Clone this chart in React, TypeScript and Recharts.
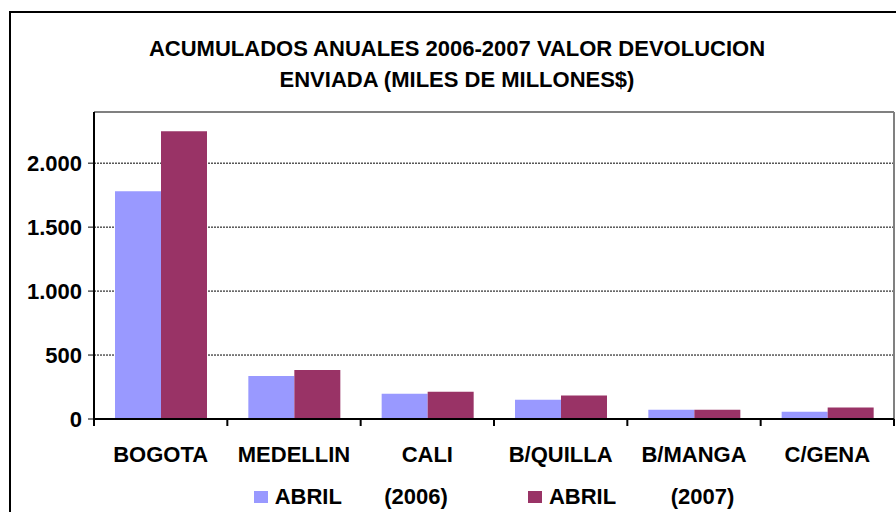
import { BarChart, Bar, XAxis, YAxis, CartesianGrid, Legend } from "recharts"

const cities = ["BOGOTA", "MEDELLIN", "CALI", "B/QUILLA", "B/MANGA", "C/GENA"]
const abril2006 = [1780, 337, 198, 151, 73, 57]
const abril2007 = [2250, 384, 214, 183, 73, 89]
const yTicks = [0, 500, 1000, 1500, 2000]
const seriesNames = ["ABRIL       (2006)", "ABRIL         (2007)"]

const data = cities.map((city, i) => ({
  city,
  v2006: abril2006[i],
  v2007: abril2007[i],
}))

const FONT = "'Liberation Sans', Arial, sans-serif"
const W = 896
const H = 512
const PLOT_W = 800

const fmt = (v: number) => String(v).replace(/\B(?=(\d{3})+(?!\d))/g, ".")

function CityTick(props: any) {
  const { x, y, payload, index } = props
  const band = PLOT_W / cities.length
  return (
    <g>
      <line x1={x - band / 2} x2={x - band / 2} y1={y} y2={y + 7} stroke="#000" strokeWidth={2} />
      {index === cities.length - 1 && (
        <line x1={x + band / 2} x2={x + band / 2} y1={y} y2={y + 7} stroke="#000" strokeWidth={2} />
      )}
      <text x={x} y={y + 43} textAnchor="middle" fill="#000" fontSize={22} fontWeight="bold" fontFamily={FONT}>
        {payload.value}
      </text>
    </g>
  )
}

function renderLegend(props: any) {
  const items = [...(props.payload || [])].sort(
    (a: any, b: any) => seriesNames.indexOf(a.value) - seriesNames.indexOf(b.value)
  )
  return (
    <div style={{ display: "flex", justifyContent: "center", gap: 80, height: 30, alignItems: "center" }}>
      {items.map((p: any) => (
        <div key={p.value} style={{ display: "flex", alignItems: "center" }}>
          <span style={{ width: 14, height: 12, background: p.color, marginRight: 7, display: "inline-block" }} />
          <span style={{ fontFamily: FONT, fontWeight: "bold", fontSize: 22, whiteSpace: "pre", color: "#000" }}>{p.value}</span>
        </div>
      ))}
    </div>
  )
}

export default function App() {
  return (
    <div style={{ position: "absolute", left: 0, top: 0, width: W, height: H, overflow: "hidden", background: "#fff" }}>
      <div style={{ position: "absolute", left: 9, top: 11, width: 920, height: 530, border: "2px solid #000" }} />
      <div
        style={{
          position: "absolute", left: 10, top: 33, width: 894, textAlign: "center",
          fontFamily: FONT, fontWeight: "bold", fontSize: 22, lineHeight: "31px", color: "#000",
        }}
      >
        <div>ACUMULADOS ANUALES 2006-2007 VALOR DEVOLUCION</div>
        <div>ENVIADA (MILES DE MILLONES$)</div>
      </div>
      <div style={{ position: "absolute", left: 0, top: 0 }}>
        <BarChart width={W} height={H} data={data} margin={{ top: 112, right: 2, left: 0, bottom: 0 }} barGap={0}>
          <CartesianGrid vertical={false} stroke="#000" strokeDasharray="2 1" />
          <CartesianGrid
            stroke="#808080"
            strokeWidth={2}
            horizontalCoordinatesGenerator={({ offset }: any) => [offset.top]}
            verticalCoordinatesGenerator={({ offset }: any) => [offset.left + offset.width]}
          />
          <XAxis
            dataKey="city"
            height={63}
            interval={0}
            tickSize={0}
            tickMargin={0}
            tickLine={false}
            axisLine={{ stroke: "#000", strokeWidth: 2 }}
            tick={<CityTick />}
          />
          <YAxis
            width={94}
            domain={[0, 2400]}
            ticks={yTicks}
            tickFormatter={fmt}
            tickSize={6}
            tickMargin={6}
            tickLine={{ stroke: "#000", strokeWidth: 1 }}
            axisLine={{ stroke: "#000", strokeWidth: 2 }}
            tick={{ fill: "#000", fontSize: 22, fontWeight: "bold", fontFamily: FONT }}
          />
          <Legend verticalAlign="bottom" height={30} wrapperStyle={{ left: 94, width: 800 }} content={renderLegend} />
          <Bar dataKey="v2006" name={seriesNames[0]} fill="#9999FF" barSize={46} isAnimationActive={false} />
          <Bar dataKey="v2007" name={seriesNames[1]} fill="#993366" barSize={46} isAnimationActive={false} />
        </BarChart>
      </div>
    </div>
  )
}
